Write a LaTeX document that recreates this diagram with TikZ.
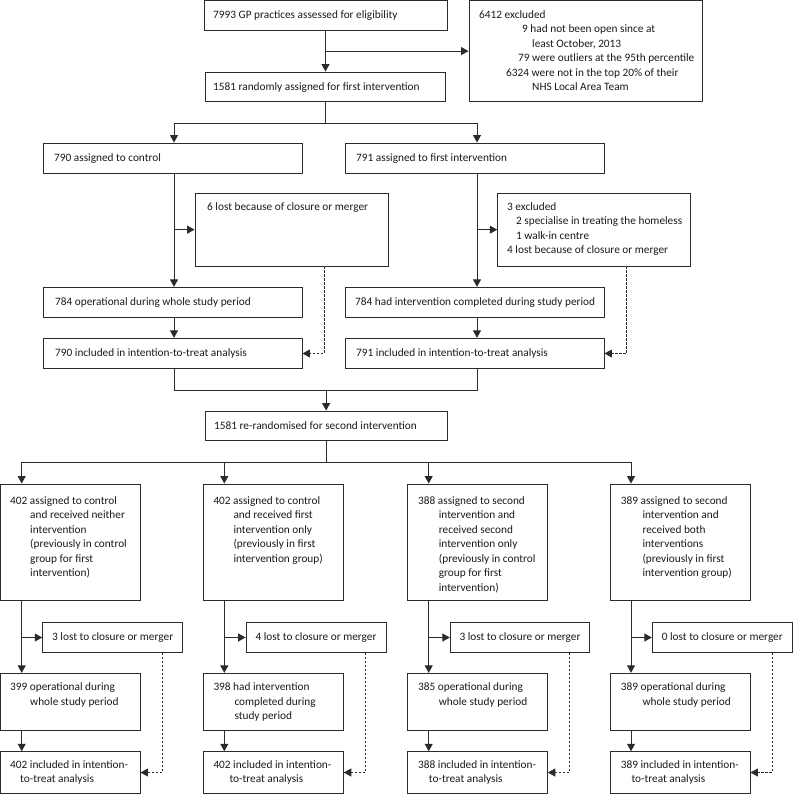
\documentclass[tikz,border=0pt]{standalone}
\usepackage{fontspec}
\setmainfont{Carlito}
\usetikzlibrary{arrows.meta,fit,calc}
\definecolor{ln}{HTML}{2B2B2B}
\definecolor{tx}{HTML}{1A1A1A}
\newcommand\dfont{\fontsize{11.3}{14.5}\selectfont}
\newcommand\mkbox[5]{\node[box, fit={(#1,#2) (#3,#4)}] (#5) {};}
\newcommand\mktext[4]{\node[txt] (#1) at (#2,#3) {\begin{tabular}[t]{@{}l@{}}#4\end{tabular}};}
\begin{document}
\begin{tikzpicture}[x=1pt,y=-1pt,
  box/.style={draw=ln, line width=0.9pt, inner sep=0pt, rectangle},
  txt/.style={anchor=base west, inner sep=0pt, text=tx, font=\dfont},
  ctxt/.style={inner sep=0pt, text=tx, font=\dfont},
  arr/.style={draw=ln, line width=1pt, -{Triangle[length=7.5pt,width=8pt]}},
  lin/.style={draw=ln, line width=1pt},
  darr/.style={draw=ln, line width=0.8pt, dash pattern=on 2.5pt off 1.5pt, -{Triangle[length=7.5pt,width=8pt]}},
]
\useasboundingbox (0,0) rectangle (793,794);

% ---------- first stage ----------
\mkbox{204}{0.5}{447}{30}{top}
\mktext{ttop}{213}{18.2}{7993 GP practices assessed for eligibility}
\mkbox{469}{0.5}{702.7}{101.7}{excl}
\mktext{texcl}{479}{18.2}{6412 excluded\\\hspace*{43pt}9 had not been open since at\\\hspace*{53pt}least October, 2013\\\hspace*{39pt}79 were outliers at the 95th percentile\\\hspace*{27pt}6324 were not in the top 20\% of their\\\hspace*{53pt}NHS Local Area Team}

\mkbox{205.7}{72}{445}{101.7}{rand}
\mktext{trand}{213}{90.5}{1581 randomly assigned for first intervention}

\mkbox{43}{143}{302}{173}{ctrl}
\mktext{tctrl}{54}{161.5}{790 assigned to control}
\mkbox{345.7}{143}{604}{173}{int}
\mktext{tint}{356}{161.5}{791 assigned to first intervention}

\mkbox{195}{193.3}{388}{266}{lostA}
\mktext{tlostA}{207}{210.5}{6 lost because of closure or merger}
\mkbox{497.7}{193.3}{690.7}{266}{lostB}
\mktext{tlostB}{507}{210.5}{3 excluded\\\hspace*{9pt}2 specialise in treating the homeless\\\hspace*{9pt}1 walk-in centre\\4 lost because of closure or merger}

\mkbox{43}{287.3}{302}{317.3}{opA}
\mktext{topA}{55}{305.5}{784 operational during whole study period}
\mkbox{345.7}{287.3}{604}{317.3}{opB}
\mktext{topB}{355}{305.5}{784 had intervention completed during study period}

\mkbox{43}{338.3}{302}{368.7}{ittA}
\mktext{tittA}{55}{356.7}{790 included in intention-to-treat analysis}
\mkbox{345.7}{338.3}{604}{368.7}{ittB}
\mktext{tittB}{356}{356.7}{791 included in intention-to-treat analysis}

\mkbox{205}{411}{447.3}{440.7}{rr}
\mktext{trr}{214}{429}{1581 re-randomised for second intervention}

% ---------- second stage ----------
\mkbox{0.5}{484}{140}{600.7}{g1}
\mktext{tg1}{10}{504.2}{402 assigned to control\\\hspace*{20pt}and received neither\\\hspace*{20pt}intervention\\\hspace*{20pt}(previously in control\\\hspace*{20pt}group for first\\\hspace*{20pt}intervention)}
\mkbox{203.3}{484}{343.3}{600.7}{g2}
\mktext{tg2}{213.3}{504.2}{402 assigned to control\\\hspace*{20pt}and received first\\\hspace*{20pt}intervention only\\\hspace*{20pt}(previously in first\\\hspace*{20pt}intervention group)}
\mkbox{407.3}{484}{547.3}{600.7}{g3}
\mktext{tg3}{418}{504.2}{388 assigned to second\\\hspace*{20.7pt}intervention and\\\hspace*{20.7pt}received second\\\hspace*{20.7pt}intervention only\\\hspace*{20.7pt}(previously in control\\\hspace*{20.7pt}group for first\\\hspace*{20.7pt}intervention)}
\mkbox{610}{484}{750}{600.7}{g4}
\mktext{tg4}{620.7}{504.2}{389 assigned to second\\\hspace*{21.6pt}intervention and\\\hspace*{21.6pt}received both\\\hspace*{21.6pt}interventions\\\hspace*{21.6pt}(previously in first\\\hspace*{21.6pt}intervention group)}

\mkbox{42.7}{622.7}{182.7}{652.3}{l1}
\node[ctxt] (tl1) at (l1.center) {3 lost to closure or merger};
\mkbox{246}{622.7}{386}{652.3}{l2}
\node[ctxt] (tl2) at (l2.center) {4 lost to closure or merger};
\mkbox{450.3}{622.7}{589.7}{652.3}{l3}
\node[ctxt] (tl3) at (l3.center) {3 lost to closure or merger};
\mkbox{652.3}{622.7}{792.3}{652.3}{l4}
\node[ctxt] (tl4) at (l4.center) {0 lost to closure or merger};

\mkbox{0.5}{673.3}{140}{730}{o1}
\mktext{to1}{10}{690.5}{399 operational during\\\hspace*{20pt}whole study period}
\mkbox{203.3}{673.3}{343.3}{730}{o2}
\mktext{to2}{213.3}{690.5}{398 had intervention\\\hspace*{21pt}completed during\\\hspace*{21pt}study period}
\mkbox{407.3}{673.3}{547.3}{730}{o3}
\mktext{to3}{418}{690.5}{385 operational during\\\hspace*{20.7pt}whole study period}
\mkbox{610}{673.3}{750}{730}{o4}
\mktext{to4}{620.7}{690.5}{389 operational during\\\hspace*{21.6pt}whole study period}

\mkbox{0.5}{751.7}{140}{793.3}{i1}
\mktext{ti1}{10}{768.2}{402 included in intention-\\\hspace*{10pt}to-treat analysis}
\mkbox{203.3}{751.7}{343.3}{793.3}{i2}
\mktext{ti2}{213.3}{768.2}{402 included in intention-\\\hspace*{16pt}to-treat analysis}
\mkbox{407.3}{751.7}{547.3}{793.3}{i3}
\mktext{ti3}{418}{768.2}{388 included in intention-\\\hspace*{10.7pt}to-treat analysis}
\mkbox{610}{751.7}{750}{793.3}{i4}
\mktext{ti4}{620.7}{768.2}{389 included in intention-\\\hspace*{10.6pt}to-treat analysis}

% ---------- coordinates ----------
\coordinate (xL) at (174,0);
\coordinate (xR) at (477,0);
\coordinate (dA) at (324.3,0);
\coordinate (dB) at (626.7,0);
\coordinate (s1) at (0,124);
\coordinate (m) at (0,390.7);
\coordinate (s2) at (0,462.3);
\coordinate (c1) at (21.7,0);
\coordinate (c2) at (224.3,0);
\coordinate (c3) at (428.7,0);
\coordinate (c4) at (631,0);
\coordinate (d1) at (162.7,0);
\coordinate (d2) at (365.7,0);
\coordinate (d3) at (569.7,0);
\coordinate (d4) at (772,0);

% ---------- connectors, first stage ----------
\draw[arr] (top.south) -- (top.south |- rand.north);
\draw[arr] (top.south |- excl.west) -- (excl.west);
\draw[lin] (rand.south) -- (rand.south |- s1);
\draw[arr] (rand.south |- s1) -| (xL |- ctrl.north);
\draw[arr] (rand.south |- s1) -| (xR |- int.north);

\draw[arr] (xL |- ctrl.south) -- (xL |- opA.north);
\draw[arr] (xL |- lostA.west) -- (lostA.west);
\draw[arr] (xL |- opA.south) -- (xL |- ittA.north);
\draw[darr] (dA |- lostA.south) |- (ittA.east);

\draw[arr] (xR |- int.south) -- (xR |- opB.north);
\draw[arr] (xR |- lostB.west) -- (lostB.west);
\draw[arr] (xR |- opB.south) -- (xR |- ittB.north);
\draw[darr] (dB |- lostB.south) |- (ittB.east);

\draw[lin] (xL |- ittA.south) |- (xR |- m) -- (xR |- ittB.south);
\draw[arr] (rr.north |- m) -- (rr.north);

% ---------- connectors, second stage ----------
\draw[lin] (rr.south) -- (rr.south |- s2);
\draw[lin] (c1 |- s2) -- (c4 |- s2);
\foreach \k in {1,2,3,4}{
  \draw[arr] (c\k |- s2) -- (c\k |- g\k.north);
  \draw[arr] (c\k |- g\k.south) -- (c\k |- o\k.north);
  \draw[arr] (c\k |- l\k.west) -- (l\k.west);
  \draw[arr] (c\k |- o\k.south) -- (c\k |- i\k.north);
  \draw[darr] (d\k |- l\k.south) |- (i\k.east);
}
\end{tikzpicture}
\end{document}
